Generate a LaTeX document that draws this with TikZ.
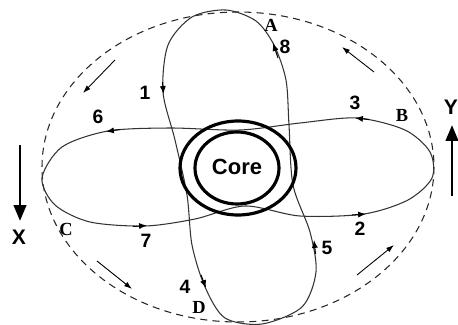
\documentclass[tikz,border=0pt]{standalone}
\usepackage{fontspec}
\setmainfont{Liberation Serif}
\setsansfont{Liberation Sans}
\usetikzlibrary{arrows.meta}

\begin{document}
\begin{tikzpicture}[
    x=0.02cm, y=-0.02cm,
    % --- Styles ---
    orbit/.style={
        draw=black!80,
        line width=0.6pt
    },
    ring/.style={
        draw=black,
        line width=1.8pt
    },
    shell/.style={
        draw=black!85,
        line width=0.6pt,
        dash pattern=on 4pt off 3pt
    },
    num/.style={
        font=\sffamily\bfseries\fontsize{11}{11}\selectfont
    },
    lett/.style={
        font=\rmfamily\bfseries\fontsize{10.5}{10.5}\selectfont
    },
    tip/.style={
        -{Latex[length=4.5pt, width=3.5pt]},
        line width=0.6pt
    },
    flow/.style={
        -{Latex[length=4.5pt, width=3pt]},
        line width=0.5pt
    },
    axis/.style={
        -{Triangle[length=9pt, width=7pt]},
        line width=1.6pt
    }
]
\useasboundingbox (0,0) rectangle (458,325);

% --- Outer shell ---
\draw[shell] (238,167) ellipse [x radius=196, y radius=155];

% --- Orbits ---
\draw[orbit] plot[smooth cycle, tension=0.5] coordinates {
    (226,10) (256,21) (274,45) (286,80) (289,125) (293,185) (310,232)
    (316,272) (302,307) (262,324) (225,318) (205,287) (192,245)
    (187,195) (175,140) (163,92) (168,45) (192,17)};
\draw[orbit] plot[smooth cycle, tension=0.5] coordinates {
    (42,178) (62,147) (108,131) (170,128) (240,130) (300,123) (357,118)
    (405,130) (430,152) (432,178) (408,200) (364,214) (300,216)
    (245,206) (195,219) (145,226) (90,222) (55,205)};

% --- Core ---
\draw[ring, fill=white] (237,168) ellipse [x radius=42, y radius=36];
\draw[ring] (238,168) ellipse [x radius=58, y radius=47];
\node[font=\sffamily\bfseries\fontsize{12.5}{12.5}\selectfont] (core) at (237,167) {Core};

% --- Direction marks on the orbits ---
\draw[tip] (162.5,82) -- (163.5,94);
\draw[tip] (278,58) -- (273,43);
\draw[tip] (315.5,254) -- (314,240);
\draw[tip] (201,275) -- (206,288);
\draw[tip] (120,129.5) -- (106,131.5);
\draw[tip] (133,226.5) -- (147,225.5);
\draw[tip] (369,119.5) -- (355,118);
\draw[tip] (352,215) -- (366,214);

% --- Flow along the shell ---
\draw[flow] (115,60) -- (83,93);
\draw[flow] (374,72) -- (342,47);
\draw[flow] (97,261) -- (132,289);
\draw[flow] (357,275) -- (394,245);

% --- Labels ---
\node[num] (n1) at (145,93) {1};
\node[num] (n2) at (360,229) {2};
\node[num] (n3) at (355,103) {3};
\node[num] (n4) at (185,287) {4};
\node[num] (n5) at (327,248) {5};
\node[num] (n6) at (98,117) {6};
\node[num] (n7) at (146,241) {7};
\node[num] (n8) at (285,47) {8};
\node[lett] (ta) at (271,25) {A};
\node[lett] (tb) at (402,115) {B};
\node[lett] (tc) at (66,229) {C};
\node[lett] (td) at (199,307) {D};

% --- Axes ---
\coordinate (xs) at (20,145);
\coordinate (xe) at (20,221);
\coordinate (ys) at (452,196);
\coordinate (ye) at (452,125);
\draw[axis] (xs) -- (xe);
\draw[axis] (ys) -- (ye);
\node[num, font=\sffamily\bfseries\fontsize{12}{12}\selectfont] (xlab) at (19,237) {X};
\node[num, font=\sffamily\bfseries\fontsize{12}{12}\selectfont] (ylab) at (451,107) {Y};
\end{tikzpicture}
\end{document}
